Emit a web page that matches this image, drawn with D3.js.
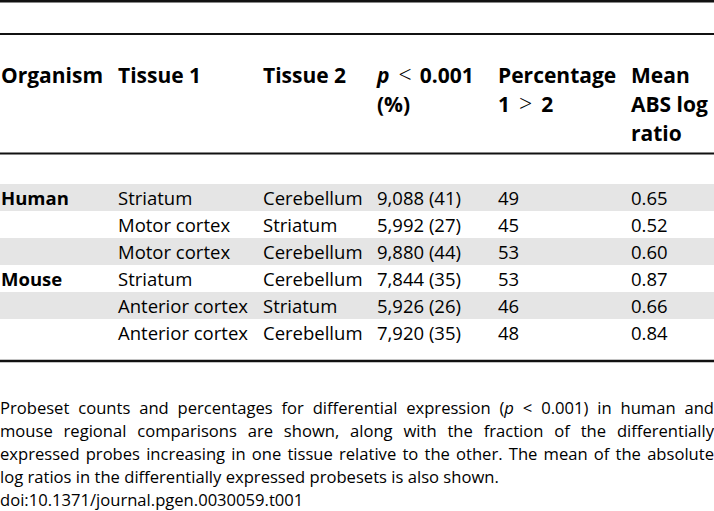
<!DOCTYPE html>
<html>
<head>
<meta charset="utf-8">
<script src="https://cdn.jsdelivr.net/npm/d3@7"></script>
<style>
  html, body { margin: 0; padding: 0; background: #fff; }
  svg { display: block; }
</style>
</head>
<body>
<svg id="chart" width="714" height="511"></svg>
<script>
// ---------- data ----------
const organisms = ["Human", "", "", "Mouse", "", ""];
const tissue1 = ["Striatum", "Motor cortex", "Motor cortex", "Striatum", "Anterior cortex", "Anterior cortex"];
const tissue2 = ["Cerebellum", "Striatum", "Cerebellum", "Cerebellum", "Striatum", "Cerebellum"];
const probeCounts = [9088, 5992, 9880, 7844, 5926, 7920];
const probePercents = [41, 27, 44, 35, 26, 35];
const percent1gt2 = [49, 45, 53, 53, 46, 48];
const meanAbsLogRatio = [0.65, 0.52, 0.60, 0.87, 0.66, 0.84];

// header lines: each column -> lines -> segments [text, style, gapBefore]
const headerLabels = [
  [[["Organism", "b"]]],
  [[["Tissue 1", "b"]]],
  [[["Tissue 2", "b"]]],
  [[["p", "bi"], ["<", "r", 9], ["0.001", "b", 8]], [["(%)", "b"]]],
  [[["Percentage", "b"]], [["1", "b"], [">", "r", 9], ["2", "b", 9]]],
  [[["Mean", "b"]], [["ABS log", "b"]], [["ratio", "b"]]]
];

const captionLines = [
  { justify: true, words: ["Probeset", "counts", "and", "percentages", "for", "differential", "expression", [["(", "r"], ["p", "i"]], "<", "0.001)", "in", "human", "and"] },
  { justify: true, words: ["mouse", "regional", "comparisons", "are", "shown,", "along", "with", "the", "fraction", "of", "the", "differentially"] },
  { justify: true, words: ["expressed", "probes", "increasing", "in", "one", "tissue", "relative", "to", "the", "other.", "The", "mean", "of", "the", "absolute"] },
  { justify: false, words: ["log", "ratios", "in", "the", "differentially", "expressed", "probesets", "is", "also", "shown."] },
  { justify: false, words: ["doi:10.1371/journal.pgen.0030059.t001"] }
];

// ---------- layout ----------
const W = 714, H = 511;
const FONT = "'Open Sans', 'Noto Sans', sans-serif";
const colX = [1, 118, 263, 377, 498, 631];
const headerBaseline = 83, headerLineStep = 29, headerSize = 21;
const bodyTop = 184, bodyBottom = 346, bodySize = 18.5;
const rules = [{ y: 1.2, w: 2.5 }, { y: 34, w: 2 }, { y: 153.5, w: 2 }, { y: 361, w: 2.5 }];
const captionTop = 414, captionStep = 23, captionSize = 16.6;
const INK = "#000";

const svg = d3.select("#chart");

const rowIdx = d3.range(organisms.length);
const y = d3.scaleBand().domain(rowIdx).range([bodyTop, bodyBottom]).padding(0);

// shading
svg.append("g").selectAll("rect")
  .data(rowIdx.filter(i => i % 2 === 0))
  .join("rect")
  .attr("x", 0).attr("width", W)
  .attr("y", i => y(i)).attr("height", y.bandwidth())
  .attr("fill", "#e5e5e5");

// rules
svg.append("g").selectAll("line")
  .data(rules).join("line")
  .attr("x1", 0).attr("x2", W)
  .attr("y1", d => d.y).attr("y2", d => d.y)
  .attr("stroke", "#111").attr("stroke-width", d => d.w);

function styleSeg(sel, st) {
  sel.attr("font-weight", st.includes("b") ? 700 : 400)
     .attr("font-style", st.includes("i") ? "italic" : "normal");
}

// header
const hg = svg.append("g").attr("font-family", FONT).attr("font-size", headerSize).attr("fill", INK);
headerLabels.forEach((lines, c) => {
  lines.forEach((segs, li) => {
    const t = hg.append("text")
      .attr("x", colX[c])
      .attr("y", headerBaseline + li * headerLineStep);
    segs.forEach(([txt, st, gap]) => {
      const ts = t.append("tspan").text(txt).call(styleSeg, st);
      if (gap) ts.attr("dx", gap);
      if (st === "r") ts.attr("font-size", headerSize * 1.1).attr("font-weight", 300);
    });
  });
});

// body
const fmtCount = d3.format(",");
const fmt2 = d3.format(".2f");
const cells = rowIdx.map(i => [
  { t: organisms[i], b: true },
  { t: tissue1[i] },
  { t: tissue2[i] },
  { t: fmtCount(probeCounts[i]) + " (" + probePercents[i] + ")" },
  { t: String(percent1gt2[i]) },
  { t: fmt2(meanAbsLogRatio[i]) }
]);
const bg = svg.append("g").attr("font-family", FONT).attr("font-size", bodySize).attr("fill", INK);
const rowsG = bg.selectAll("g.row").data(cells).join("g").attr("class", "row")
  .attr("transform", (d, i) => `translate(0,${y(i) + 21})`);
rowsG.selectAll("text").data(d => d).join("text")
  .attr("x", (d, c) => colX[c])
  .attr("y", 0)
  .attr("font-weight", d => d.b ? 700 : 400)
  .text(d => d.t);

// caption (justified)
const cg = svg.append("g").attr("font-family", FONT).attr("font-size", captionSize).attr("fill", INK);
captionLines.forEach((line, li) => {
  const by = captionTop + li * captionStep;
  const nodes = line.words.map(w => {
    const t = cg.append("text").attr("y", by);
    const segs = typeof w === "string" ? [[w, "r"]] : w;
    segs.forEach(([txt, st]) => t.append("tspan").text(txt).call(styleSeg, st));
    return t;
  });
  const widths = nodes.map(n => n.node().getComputedTextLength());
  const total = d3.sum(widths);
  const spaceW = captionSize * 0.26;
  const gap = (line.justify && nodes.length > 1) ? (W - total) / (nodes.length - 1) : spaceW;
  let x = 0;
  nodes.forEach((n, k) => {
    n.attr("x", x);
    x += widths[k] + gap;
  });
});
</script>
</body>
</html>
